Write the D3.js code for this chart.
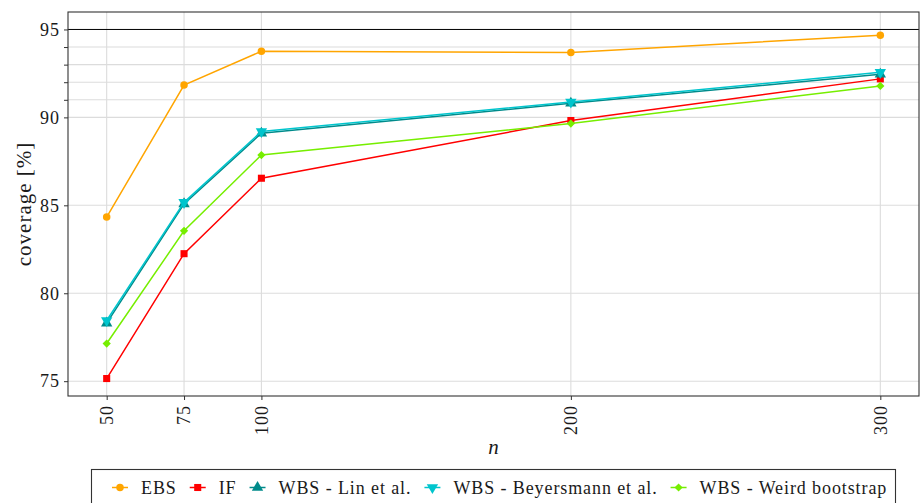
<!DOCTYPE html>
<html>
<head>
<meta charset="utf-8">
<script src="https://cdn.jsdelivr.net/npm/d3@7"></script>
<style>
  body { margin: 0; background: #fff; }
  text { font-family: "Liberation Serif", "Times New Roman", serif; fill: #1a1a1a; }
</style>
</head>
<body>
<div id="chart"></div>
<script>
// sample sizes on the x axis
const nValues = [50, 75, 100, 200, 300];

// coverage in percent per method
const ebs = [84.33, 91.84, 93.76, 93.69, 94.67];
const inf = [75.15, 82.25, 86.54, 89.82, 92.19];
const wbsLin = [78.3, 85.08, 89.1, 90.8, 92.45];
const wbsBey = [78.45, 85.17, 89.2, 90.88, 92.56];
const wbsWeird = [77.14, 83.55, 87.86, 89.65, 91.79];

const seriesNames = ["EBS", "IF", "WBS - Lin et al.", "WBS - Beyersmann et al.", "WBS - Weird bootstrap"];

const yBreaks = [75, 80, 85, 90, 91, 92, 93, 94, 95];
const yLabels = ["75", "80", "85", "90", "", "", "", "", "95"];
const target = 95;

const colors = ["#ffa500", "#ff0000", "#008b8b", "#00c5cd", "#76ee00"];
const shapes = [d3.symbolCircle, d3.symbolSquare, d3.symbolTriangle, d3.symbolTriangle, d3.symbolSquare];
const shapeSize = [44, 50, 56, 56, 34];
const shapeRot = [0, 0, 0, 180, 45];

const series = [ebs, inf, wbsLin, wbsBey, wbsWeird].map((vals, i) => ({
    name: seriesNames[i],
    values: vals.map((v, j) => ({ n: nValues[j], v: v }))
}));

const W = 920, H = 503;
const margin = { top: 12, right: 1, bottom: 107, left: 68 };
const fontSize = 18;

const svg = d3.select("#chart").append("svg")
    .attr("width", W)
    .attr("height", H);

// scales with ggplot-like 5% expansion
const xExt = d3.extent(nValues);
const xPad = (xExt[1] - xExt[0]) * 0.05;
const x = d3.scaleLinear()
    .domain([xExt[0] - xPad, xExt[1] + xPad])
    .range([margin.left, W - margin.right]);

const allVals = series.flatMap(s => s.values.map(d => d.v)).concat([target]);
const yExt = d3.extent(allVals);
const yPad = (yExt[1] - yExt[0]) * 0.05;
const y = d3.scaleLinear()
    .domain([yExt[0] - yPad, yExt[1] + yPad])
    .range([H - margin.bottom, margin.top]);

const x0 = margin.left, x1 = W - margin.right;
const y0 = H - margin.bottom, y1 = margin.top;

// grid
svg.append("g")
    .selectAll("line")
    .data(yBreaks)
    .join("line")
    .attr("x1", x0).attr("x2", x1)
    .attr("y1", d => y(d)).attr("y2", d => y(d))
    .attr("stroke", "#dcdcdc")
    .attr("stroke-width", 1.1);

svg.append("g")
    .selectAll("line")
    .data(nValues)
    .join("line")
    .attr("x1", d => x(d)).attr("x2", d => x(d))
    .attr("y1", y0).attr("y2", y1)
    .attr("stroke", "#dcdcdc")
    .attr("stroke-width", 1.1);

// reference line at 95
svg.append("line")
    .attr("x1", x0).attr("x2", x1)
    .attr("y1", y(target)).attr("y2", y(target))
    .attr("stroke", "#000")
    .attr("stroke-width", 1);

// lines and points
const line = d3.line().x(d => x(d.n)).y(d => y(d.v));

series.forEach((s, i) => {
    const g = svg.append("g");
    g.append("path")
        .datum(s.values)
        .attr("d", line)
        .attr("fill", "none")
        .attr("stroke", colors[i])
        .attr("stroke-width", 1.5);
    g.selectAll("path.pt")
        .data(s.values)
        .join("path")
        .attr("class", "pt")
        .attr("d", d3.symbol().type(shapes[i]).size(shapeSize[i]))
        .attr("transform", d => `translate(${x(d.n)},${y(d.v)}) rotate(${shapeRot[i]})`)
        .attr("fill", colors[i]);
});

// panel border
svg.append("rect")
    .attr("x", x0).attr("y", y1)
    .attr("width", x1 - x0).attr("height", y0 - y1)
    .attr("fill", "none")
    .attr("stroke", "#333")
    .attr("stroke-width", 1.1);

// y axis
const yAxis = svg.append("g")
    .attr("transform", `translate(${x0},0)`)
    .call(d3.axisLeft(y).tickValues(yBreaks).tickFormat((d, i) => yLabels[i]).tickSize(4).tickPadding(4));
yAxis.select(".domain").remove();
yAxis.selectAll(".tick line").attr("stroke", "#333");
yAxis.selectAll(".tick text")
    .attr("font-family", "Liberation Serif")
    .attr("font-size", fontSize)
    .attr("letter-spacing", 1)
    .attr("fill", "#1a1a1a");

// x axis
const xAxis = svg.append("g")
    .attr("transform", `translate(0,${y0})`)
    .call(d3.axisBottom(x).tickValues(nValues).tickSize(4).tickPadding(3));
xAxis.select(".domain").remove();
xAxis.selectAll(".tick line").attr("stroke", "#333");
xAxis.selectAll(".tick text")
    .attr("font-family", "Liberation Serif")
    .attr("font-size", fontSize)
    .attr("letter-spacing", 1)
    .attr("fill", "#1a1a1a")
    .attr("transform", "rotate(-90)")
    .attr("text-anchor", "end")
    .attr("dy", "0.32em")
    .attr("x", -9)
    .attr("y", 0);

// axis titles
svg.append("text")
    .attr("transform", `translate(31,${(y0 + y1) / 2}) rotate(-90)`)
    .attr("text-anchor", "middle")
    .attr("font-size", 21)
    .attr("letter-spacing", 1)
    .text("coverage [%]");

svg.append("text")
    .attr("x", (x0 + x1) / 2)
    .attr("y", 454)
    .attr("text-anchor", "middle")
    .attr("font-size", 21)
    .attr("font-style", "italic")
    .text("n");

// legend
const legend = svg.append("g");
legend.append("rect")
    .attr("x", 91.5).attr("y", 469.5)
    .attr("width", 804).attr("height", 50)
    .attr("fill", "#fff")
    .attr("stroke", "#333")
    .attr("stroke-width", 1.1);

const keyY = 487.5;
let cx = 120;
series.forEach((s, i) => {
    const item = legend.append("g");
    item.append("line")
        .attr("x1", cx - 8).attr("x2", cx + 8)
        .attr("y1", keyY).attr("y2", keyY)
        .attr("stroke", colors[i])
        .attr("stroke-width", 1.5);
    item.append("path")
        .attr("d", d3.symbol().type(shapes[i]).size(shapeSize[i]))
        .attr("transform", `translate(${cx},${keyY}) rotate(${shapeRot[i]})`)
        .attr("fill", colors[i]);
    const t = item.append("text")
        .attr("x", cx + 21)
        .attr("y", 493.5)
        .attr("font-size", fontSize)
        .attr("letter-spacing", 0.9)
        .text(s.name);
    const w = t.node().getComputedTextLength();
    cx = cx + 21 + w + 21;
});
</script>
</body>
</html>
